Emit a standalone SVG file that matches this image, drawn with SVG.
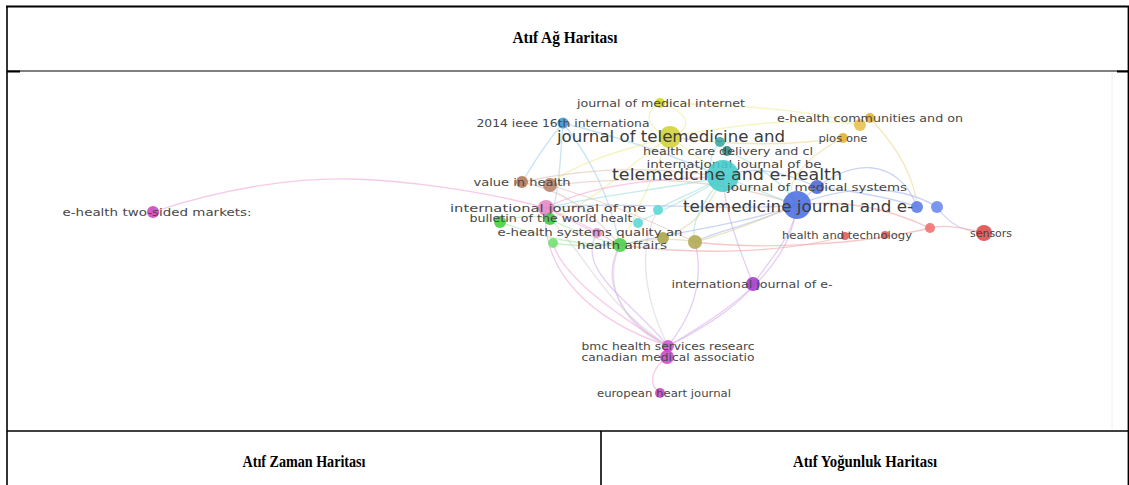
<svg xmlns="http://www.w3.org/2000/svg" width="1129" height="485" viewBox="0 0 1129 485">
<style>
.tl{stroke:#000;fill:none}
.hd{font-family:"Liberation Serif","Times New Roman",serif;font-weight:bold;font-size:16px;fill:#000;text-anchor:middle}
.lb{font-family:"DejaVu Sans","Verdana",sans-serif;font-size:11px;fill:#474747;text-anchor:middle}
.big{font-size:15px;fill:#3c3c3c}
.e{fill:none;stroke-width:1.3;opacity:0.6}
.pk{stroke:#f2a6d8}.bl{stroke:#a9b8ef}.ye{stroke:#ecec94}.gr{stroke:#a6e6a6}.pu{stroke:#d6ade8}
.cy{stroke:#9edede}.rd{stroke:#f3a3a3}.br{stroke:#e0c2b2}.ol{stroke:#d9d49c}.gd{stroke:#efd68e}.lb2{stroke:#a6d0ee}.gy{stroke:#d8d0dc}
circle{opacity:0.88}
</style>
<rect width="1129" height="485" fill="#fff"/>
<g id="table">
<line class="tl" x1="6" y1="6.5" x2="1129" y2="6.5" stroke-width="2"/>
<line class="tl" x1="7" y1="6" x2="7" y2="485" stroke-width="1.6"/>
<line class="tl" x1="1128.3" y1="6" x2="1128.3" y2="485" stroke-width="1.4"/>
<line class="tl" x1="7" y1="71" x2="1129" y2="71" stroke-width="1"/>
<line class="tl" x1="7" y1="71.5" x2="20" y2="71.5" stroke-width="2"/>
<line class="tl" x1="1117" y1="71.5" x2="1129" y2="71.5" stroke-width="2"/>
<line class="tl" x1="7" y1="431" x2="1129" y2="431" stroke-width="1.6"/>
<line class="tl" x1="601" y1="431" x2="601" y2="485" stroke-width="1.6"/>
<line x1="1112" y1="72" x2="1112" y2="430" stroke="#f0f0f0" stroke-width="1"/>
<text class="hd" x="565" y="43" textLength="105" lengthAdjust="spacingAndGlyphs">Atıf Ağ Haritası</text>
<text class="hd" x="304" y="467" textLength="123" lengthAdjust="spacingAndGlyphs">Atıf Zaman Haritası</text>
<text class="hd" x="865" y="467" textLength="144" lengthAdjust="spacingAndGlyphs">Atıf Yoğunluk Haritası</text>
</g>
<g id="connectors">
<path class="e pk" d="M153,212 C230,186 300,178 350,179 S480,190 546,208"/>
<path class="e pu" d="M668,346 C620,320 600,280 620,245"/>
<path class="e pu" d="M668,346 C630,300 575,270 597,233"/>
<path class="e pu" d="M668,346 C705,300 700,262 695,242"/>
<path class="e pu" d="M668,346 C730,310 790,270 797,205"/>
<path class="e pu" d="M668,346 C710,325 745,300 753,284"/>
<path class="e pu" d="M753,284 C740,250 725,215 723,177"/>
<path class="e pu" d="M753,284 C775,255 795,230 797,205"/>
<path class="e pk" d="M667,357 C648,372 650,386 660,393"/>
<path class="e pk" d="M668,346 C600,305 560,270 553,243"/>
<path class="e gy" d="M668,346 C640,290 640,240 658,210"/>
<path class="e pk" d="M668,346 C590,320 540,270 546,208"/>
<path class="e gy" d="M668,346 C600,300 590,260 550,219"/>
<path class="e lb2" d="M563,123 C540,150 530,170 522,182"/>
<path class="e lb2" d="M563,123 C600,170 612,210 620,245"/>
<path class="e lb2" d="M563,123 Q650,145 723,177"/>
<path class="e lb2" d="M563,123 C560,160 560,190 550,219"/>
<path class="e ye" d="M660,103 C640,115 650,130 670,137"/>
<path class="e ye" d="M660,103 C695,115 690,130 670,137"/>
<path class="e ye" d="M660,103 C740,105 820,110 860,125"/>
<path class="e ye" d="M670,137 C760,120 820,118 860,125"/>
<path class="e gd" d="M670,137 Q760,150 843,138"/>
<path class="e ye" d="M670,137 C620,170 600,200 550,219"/>
<path class="e ye" d="M670,137 C700,160 715,168 723,177"/>
<path class="e ye" d="M670,137 C650,180 640,210 620,245"/>
<path class="e ye" d="M670,137 C620,150 570,165 550,185"/>
<path class="e gd" d="M870,118 C900,150 915,180 917,207"/>
<path class="e gd" d="M843,138 C800,160 780,190 797,205"/>
<path class="e cy" d="M723,177 C760,190 780,200 797,205"/>
<path class="e cy" d="M723,177 C690,195 665,203 658,210"/>
<path class="e cy" d="M723,177 C690,200 650,215 638,223"/>
<path class="e cy" d="M723,177 C700,205 690,225 695,242"/>
<path class="e cy" d="M723,177 C660,190 600,195 546,208"/>
<path class="e bl" d="M797,205 C850,150 900,160 917,207"/>
<path class="e bl" d="M797,205 C860,180 910,190 937,207"/>
<path class="e bl" d="M817,187 C850,190 900,200 917,207"/>
<path class="e bl" d="M797,205 C760,222 705,235 695,242"/>
<path class="e bl" d="M797,205 C720,212 620,200 546,208"/>
<path class="e bl" d="M797,205 C740,225 660,235 620,245"/>
<path class="e bl" d="M817,187 C780,170 750,165 723,177"/>
<path class="e bl" d="M937,207 C960,240 990,230 985,233"/>
<path class="e rd" d="M930,228 C860,245 760,250 695,242"/>
<path class="e rd" d="M985,233 C955,225 940,225 930,228"/>
<path class="e rd" d="M845,236 C790,252 700,256 620,245"/>
<path class="e rd" d="M930,228 C880,205 840,200 797,205"/>
<path class="e br" d="M522,182 C560,190 585,205 620,245"/>
<path class="e br" d="M550,185 C600,200 650,220 695,242"/>
<path class="e br" d="M522,182 Q620,160 723,177"/>
<path class="e br" d="M550,185 C600,180 700,170 797,205"/>
<path class="e pk" d="M546,208 C580,220 600,235 620,245"/>
<path class="e pk" d="M546,208 C600,180 680,178 723,177"/>
<path class="e pk" d="M546,208 C570,220 585,228 597,233"/>
<path class="e gr" d="M500,222 C550,240 580,245 620,245"/>
<path class="e gr" d="M550,219 C570,230 600,240 620,245"/>
<path class="e gr" d="M553,243 C570,246 600,246 620,245"/>
<path class="e gr" d="M500,222 C520,215 535,215 550,219"/>
<path class="e ol" d="M620,245 C650,238 680,238 695,242"/>
<path class="e ol" d="M663,238 C690,228 705,215 723,177"/>
<path class="e ol" d="M695,242 C740,230 770,215 797,205"/>
<path class="e cy" d="M727,151 C760,165 790,190 797,205"/>
<path class="e cy" d="M720,142 C705,160 710,170 723,177"/>
<path class="e gy" d="M620,245 C600,290 630,330 668,346"/>
</g>
<g id="n-medical-internet"><circle cx="660" cy="103" r="5" fill="#d4d430"/><text class="lb" x="661" y="107" textLength="168" lengthAdjust="spacingAndGlyphs">journal of medical internet</text></g>
<g id="n-ieee"><circle cx="563" cy="123" r="5.5" fill="#3a98d6"/><text class="lb" x="563" y="127" textLength="173" lengthAdjust="spacingAndGlyphs">2014 ieee 16th internationa</text></g>
<g id="n-telemedicine-and"><circle cx="670" cy="137" r="11" fill="#d2d234"/><text class="lb big" x="671" y="142" textLength="228" lengthAdjust="spacingAndGlyphs">journal of telemedicine and</text></g>
<g id="n-communities"><circle cx="860" cy="125" r="6" fill="#e6c04c"/><circle cx="870" cy="118" r="5" fill="#dcb436"/><text class="lb" x="870" y="122" textLength="186" lengthAdjust="spacingAndGlyphs">e-health communities and on</text></g>
<g id="n-plos"><circle cx="843" cy="138" r="5" fill="#e0b030"/><text class="lb" x="843" y="141.5" font-size="9.5" textLength="49" lengthAdjust="spacingAndGlyphs">plos one</text></g>
<g id="n-health-care"><circle cx="720" cy="142" r="5" fill="#3aa6a0"/><circle cx="727" cy="151" r="5" fill="#2f8a86"/><text class="lb" x="728" y="155" textLength="170" lengthAdjust="spacingAndGlyphs">health care delivery and cl</text></g>
<g id="n-intl-be"><text class="lb" x="734" y="167.5" textLength="175" lengthAdjust="spacingAndGlyphs">international journal of be</text></g>
<g id="n-tele-ehealth"><circle cx="723" cy="176" r="16" fill="#44cccc"/><text class="lb big" x="727" y="180" textLength="230" lengthAdjust="spacingAndGlyphs">telemedicine and e-health</text></g>
<g id="n-value"><circle cx="522" cy="182" r="6" fill="#b07656"/><circle cx="550" cy="185" r="7" fill="#b88068"/><text class="lb" x="522" y="186" textLength="97" lengthAdjust="spacingAndGlyphs">value in health</text></g>
<g id="n-med-systems"><circle cx="817" cy="187" r="7" fill="#4a66d6"/><text class="lb" x="817" y="191" textLength="180" lengthAdjust="spacingAndGlyphs">journal of medical systems</text></g>
<g id="n-tele-journal"><circle cx="797" cy="205" r="14" fill="#4a6ee2"/><circle cx="917" cy="207" r="6" fill="#5a7ae6"/><circle cx="937" cy="207" r="6" fill="#6a88ee"/><text class="lb big" x="798" y="212" textLength="230" lengthAdjust="spacingAndGlyphs">telemedicine journal and e-</text></g>
<g id="n-intl-me"><circle cx="546" cy="208" r="8" fill="#e684c4"/><circle cx="658" cy="210" r="5" fill="#5cd6d6"/><text class="lb" x="548" y="212" font-size="12" textLength="196" lengthAdjust="spacingAndGlyphs">international journal of me</text></g>
<g id="n-bulletin"><circle cx="500" cy="222" r="6" fill="#40d040"/><circle cx="550" cy="219" r="6" fill="#3cc83c"/><circle cx="638" cy="223" r="5" fill="#5cd6d6"/><text class="lb" x="551" y="222" textLength="163" lengthAdjust="spacingAndGlyphs">bulletin of the world healt</text></g>
<g id="n-systems-quality"><circle cx="597" cy="233" r="5" fill="#e890c8"/><circle cx="663" cy="238" r="6" fill="#a8a448"/><circle cx="695" cy="242" r="7" fill="#b0a850"/><text class="lb" x="590" y="236" textLength="185" lengthAdjust="spacingAndGlyphs">e-health systems quality an</text></g>
<g id="n-affairs"><circle cx="553" cy="243" r="5" fill="#6ee06e"/><circle cx="620" cy="245" r="7" fill="#48d048"/><text class="lb" x="622" y="249" textLength="90" lengthAdjust="spacingAndGlyphs">health affairs</text></g>
<g id="n-technology"><circle cx="845" cy="236" r="4" fill="#e05858"/><circle cx="885" cy="235" r="4" fill="#e05858"/><circle cx="930" cy="228" r="5" fill="#ee7070"/><text class="lb" x="847" y="239" font-size="9.5" textLength="130" lengthAdjust="spacingAndGlyphs">health and technology</text></g>
<g id="n-sensors"><circle cx="984" cy="233" r="8" fill="#e04848"/><text class="lb" x="991" y="236.5" font-size="9.5" textLength="42" lengthAdjust="spacingAndGlyphs">sensors</text></g>
<g id="n-two-sided"><circle cx="153" cy="212" r="6" fill="#d040b8"/><text class="lb" x="157" y="216" textLength="189" lengthAdjust="spacingAndGlyphs">e-health two-sided markets:</text></g>
<g id="n-intl-e"><circle cx="753" cy="284" r="7" fill="#a438cc"/><text class="lb" x="752" y="288" textLength="161" lengthAdjust="spacingAndGlyphs">international journal of e-</text></g>
<g id="n-bmc"><circle cx="668" cy="346" r="6" fill="#d050d0"/><text class="lb" x="668" y="349.5" textLength="173" lengthAdjust="spacingAndGlyphs">bmc health services researc</text></g>
<g id="n-canadian"><circle cx="667" cy="357" r="7" fill="#c848c8"/><text class="lb" x="668" y="360.5" textLength="173" lengthAdjust="spacingAndGlyphs">canadian medical associatio</text></g>
<g id="n-european"><circle cx="660" cy="393" r="5" fill="#d040c0"/><text class="lb" x="664" y="396.5" font-size="10" textLength="134" lengthAdjust="spacingAndGlyphs">european heart journal</text></g>
</svg>
